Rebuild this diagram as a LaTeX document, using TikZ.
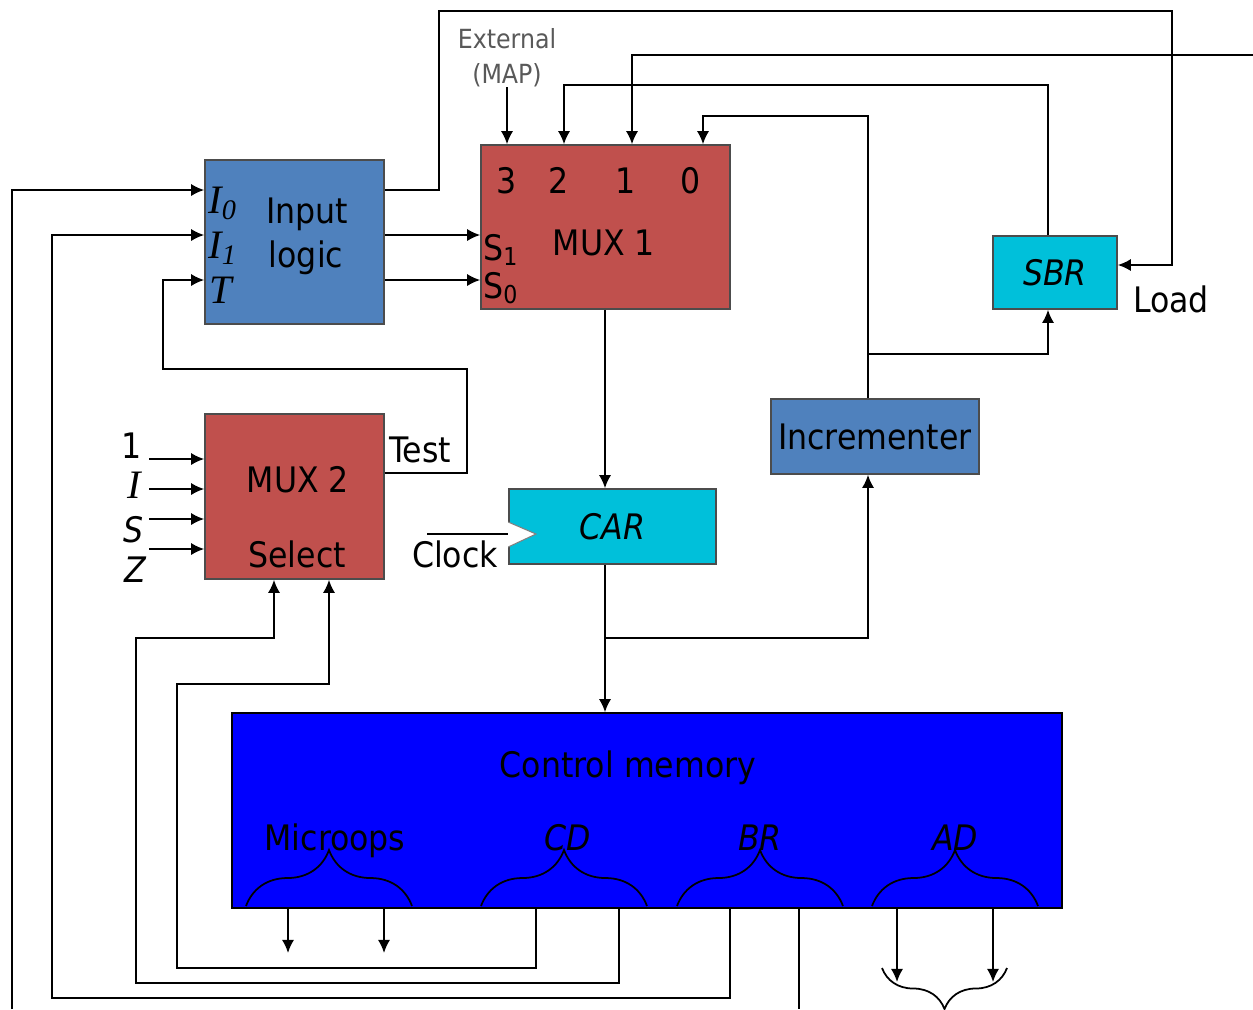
\documentclass[tikz,border=0pt]{standalone}
\usepackage{fontspec}
\setmainfont{DejaVu Sans Condensed}
\newfontfamily\pinfont{Liberation Serif}
\usepackage{tikz}
\usetikzlibrary{shapes,arrows.meta,decorations.pathreplacing}
\definecolor{logicblue}{RGB}{79,129,189}
\definecolor{muxred}{RGB}{192,80,77}
\definecolor{regcyan}{RGB}{0,192,218}
\definecolor{memblue}{RGB}{0,0,255}
\newcommand{\pinname}[1]{{\pinfont\fontsize{23}{24}\selectfont\itshape #1}}

\begin{document}
\begin{tikzpicture}[
    x=0.02cm,
    y=-0.02cm,
    font=\fontsize{20}{24}\selectfont,
    block/.style={
      rectangle,
      draw=black!70,
      line width=0.9pt,
      inner sep=0pt
    },
    txt/.style={inner sep=0pt, anchor=base},
    line/.style={draw, -{Latex[length=7.5pt,width=7pt]}, line width=1.1pt},
    wire/.style={draw, line width=1.1pt},
    fieldbrace/.style={decorate, decoration={brace, amplitude=#1}, line width=1pt},
]
    \useasboundingbox (0,0) rectangle (1253,1009);

    \node [block, fill=logicblue, minimum width=3.58cm, minimum height=3.28cm] (input) at (294.5,242) {};
    \node [block, fill=muxred, minimum width=4.98cm, minimum height=3.28cm] (mux1) at (605.5,227) {};
    \node [block, fill=regcyan, minimum width=2.48cm, minimum height=1.46cm] (sbr) at (1055,272.5) {\textit{SBR}};
    \node [block, fill=logicblue, minimum width=4.16cm, minimum height=1.5cm] (incr) at (875,436.5) {Incrementer};
    \node [block, fill=muxred, minimum width=3.58cm, minimum height=3.3cm] (mux2) at (294.5,496.5) {};
    \node [block, fill=regcyan, minimum width=4.14cm, minimum height=1.5cm] (car) at (612.5,526.5) {\textit{CAR}};
    \node [block, fill=memblue, draw=black, minimum width=16.6cm, minimum height=3.9cm] (memory) at (647,810.5) {};

    \node [txt] (inputtxt) at (307,223) {Input};
    \node [txt] (logictxt) at (306,267) {logic};
    \node [txt, anchor=base west] (i0) at (208,213) {\pinname{I\textsubscript{0}}};
    \node [txt, anchor=base west] (i1) at (208,258) {\pinname{I\textsubscript{1}}};
    \node [txt, anchor=base west] (t) at (209,303) {\pinname{T}};

    \node [txt] (in3) at (507,193) {3};
    \node [txt] (in2) at (559,193) {2};
    \node [txt] (in1) at (626,193) {1};
    \node [txt] (in0) at (691,193) {0};
    \node [txt] (mux1txt) at (604,255) {MUX 1};
    \node [txt, anchor=base west] (s1) at (483,260) {S\textsubscript{1}};
    \node [txt, anchor=base west] (s0) at (483,298) {S\textsubscript{0}};
    \node [inner sep=0pt, anchor=south, align=center, text=black!65, font=\fontsize{15}{20}\selectfont] (ext) at (507,87) {External\\(MAP)};
    \node [txt] (load) at (1171,312) {Load};

    \node [txt] (mux2txt) at (298,492) {MUX 2};
    \node [txt] (select) at (297,567) {Select};
    \node [txt] (test) at (420,462) {Test};
    \node [txt] (one) at (132,458) {1};
    \node [txt] (iflag) at (134,498) {\pinname{I}};
    \node [txt] (sflag) at (134,542) {\textit{S}};
    \node [txt] (zflag) at (136,582) {\textit{Z}};
    \node [txt] (clock) at (455,567) {Clock};

    \node [txt] (memtxt) at (628,777) {Control memory};
    \node [txt] (microops) at (335,850) {Microops};
    \node [txt] (cdtxt) at (568,850) {\textit{CD}};
    \node [txt] (brtxt) at (760,850) {\textit{BR}};
    \node [txt] (adtxt) at (955,850) {\textit{AD}};

    \coordinate (ret) at (1253,55);
    \coordinate (tap) at (868,354);
    \coordinate (split) at (605,638);
    \coordinate (clk) at (427,534);
    \coordinate (fromi0) at (12,1009);

    \path [line] (input.east |- 0,190) -| (439,11) -| (1172,265) -- (sbr.east |- 0,265);
    \path [line] (input.east |- 0,235) -- (mux1.west |- 0,235);
    \path [line] (input.east |- 0,280) -- (mux1.west |- 0,280);
    \path [line] (ext.south) -- (ext.south |- mux1.north);
    \path [line] (sbr.north -| 1048,0) |- (564,85) -- (mux1.north -| 564,0);
    \path [line] (ret) -| (mux1.north -| 632,0);
    \path [line] (incr.north -| tap) |- (703,116) -- (mux1.north -| 703,0);
    \path [line] (tap) -| (sbr.south -| 1048,0);
    \path [line] (mux1.south -| split) -- (car.north -| split);
    \path [line] (car.south -| split) -- (memory.north -| split);
    \path [line] (split) -| (incr.south -| tap);
    \path [wire] (clk) -- (car.west |- clk);
    \draw [fill=white, draw=black!50, line width=0.6pt] (car.west |- 0,522) -- (536,534) -- (car.west |- 0,547);
    \path [line] (mux2.east |- 0,473) -| (467,369) -| (163,280) -- (input.west |- 0,280);
    \foreach \y in {459,489,519,549}
        \path [line] (149,\y) -- (mux2.west |- 0,\y);
    \path [line] (fromi0) |- (input.west |- 0,190);
    \path [line] (memory.south -| 730,0) |- (52,998) |- (input.west |- 0,235);
    \path [line] (memory.south -| 536,0) |- (177,968) |- (329,684) -- (mux2.south -| 329,0);
    \path [line] (memory.south -| 619,0) |- (136,983) |- (274,638) -- (mux2.south -| 274,0);
    \path [wire] (memory.south -| 799,0) -- (799,1009);
    \foreach \x in {288,384}
        \path [line] (memory.south -| \x,0) -- (\x,953);
    \foreach \x in {897,993}
        \path [line] (memory.south -| \x,0) -- (\x,982);

    \draw [fieldbrace=1.12cm] (246,906) -- (412,906);
    \draw [fieldbrace=1.12cm] (481,906) -- (647,906);
    \draw [fieldbrace=1.12cm] (677,906) -- (843,906);
    \draw [fieldbrace=1.12cm] (872,906) -- (1038,906);
    \draw [fieldbrace=0.82cm] (1007,968) -- (882,968);
\end{tikzpicture}
\end{document}
